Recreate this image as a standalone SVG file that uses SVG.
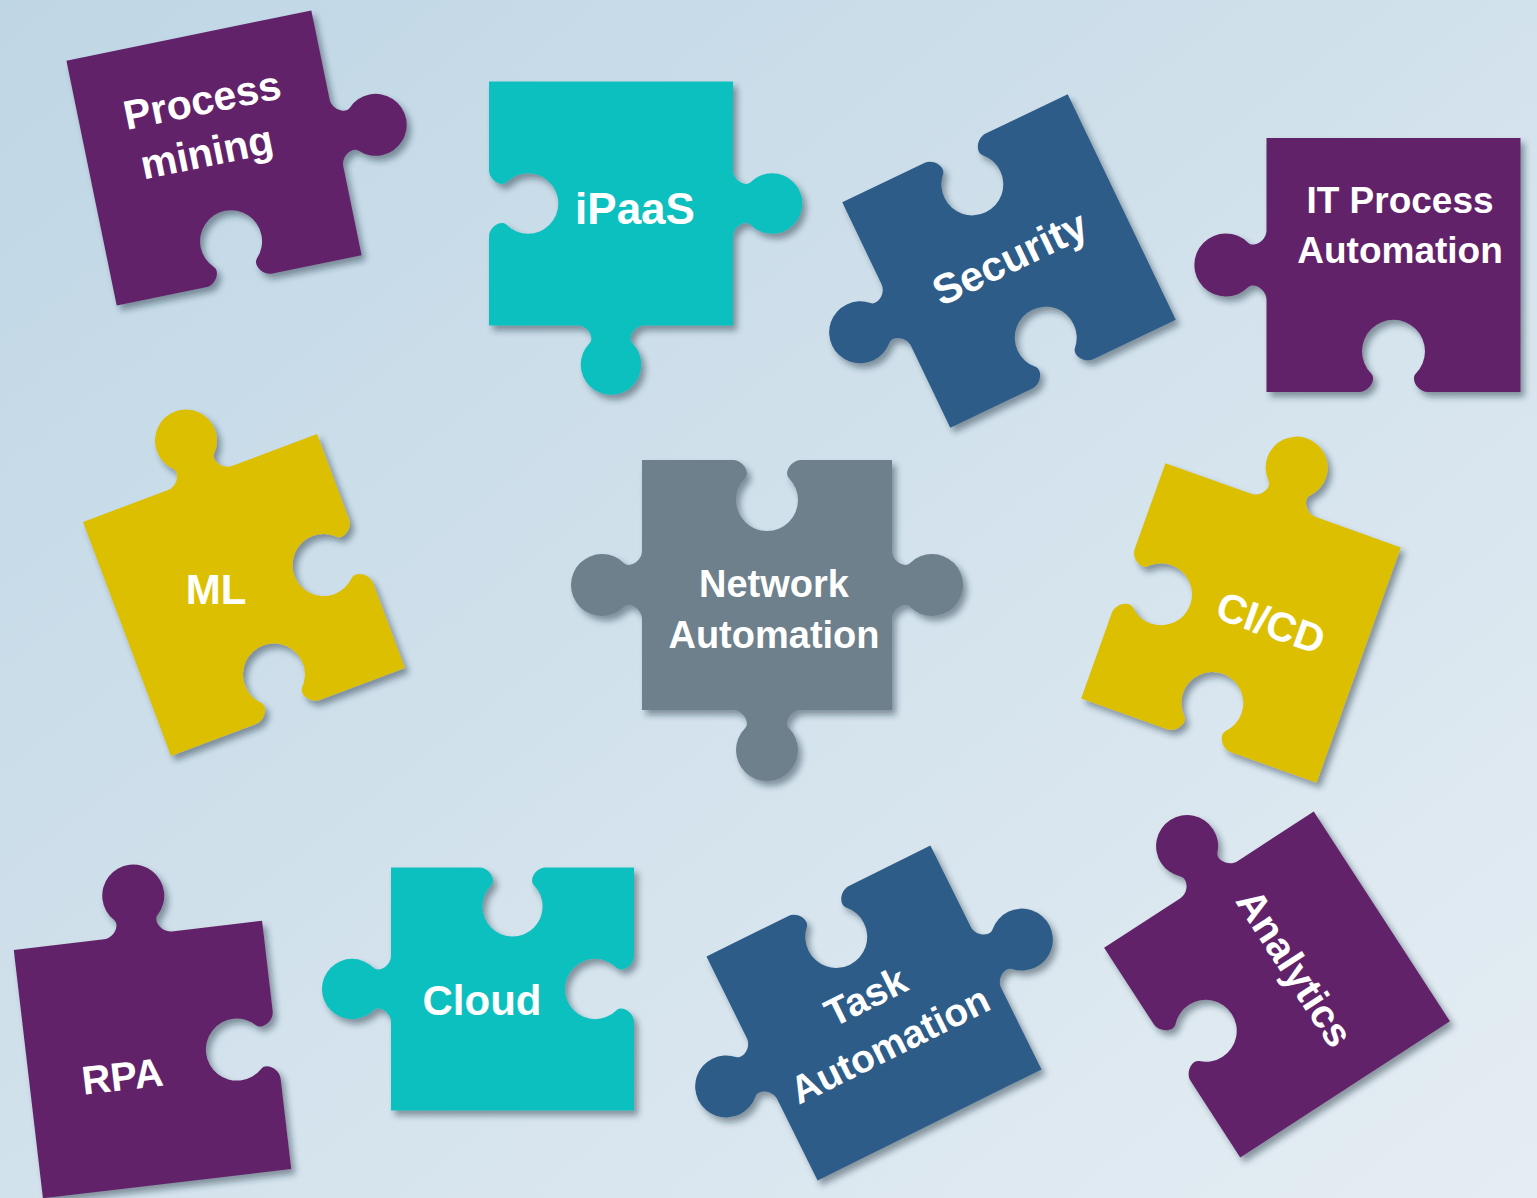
<svg xmlns="http://www.w3.org/2000/svg" width="1537" height="1198" viewBox="0 0 1537 1198">
<defs>
<linearGradient id="bg" x1="0" y1="0" x2="1" y2="1">
<stop offset="0" stop-color="#bfd6e5"/>
<stop offset="1" stop-color="#e5edf3"/>
</linearGradient>
<filter id="sh" x="-20%" y="-20%" width="140%" height="140%">
<feDropShadow dx="4" dy="5" stdDeviation="3" flood-color="#1e2d3c" flood-opacity="0.45"/>
</filter>
<style>
.purple{fill:#62246a}
.teal{fill:#10c0c0}
.navy{fill:#2f5b88}
.yellow{fill:#dcbf05}
.gray{fill:#6e808c}
.t{fill:#ffffff;font-family:"Liberation Sans",Arial,sans-serif;font-weight:bold;text-anchor:middle}
</style>
</defs>
<rect width="1537" height="1198" fill="url(#bg)"/>
<g id="connectors"/>

<g id="process-mining" transform="translate(214,158)">
<g filter="url(#sh)"><path class="purple" transform="rotate(-11.6)" d="M -125,-125 L 125,-125 L 125,-34 C 125,-24 137.5,-16.4 143.2,-22 A 31 31 0 1 1 143.2,22 C 137.5,16.4 125,24 125,34 L 125,125 L 34,125 C 24,125 16.4,112.5 22,106.8 A 31 31 0 1 0 -22,106.8 C -16.4,112.5 -24,125 -34,125 L -125,125 Z"/></g>
<g transform="rotate(-11.6)"><text class="t" x="0" y="-45" font-size="41">Process</text><text class="t" x="-6" y="7" font-size="41">mining</text></g>
</g>

<g id="ipaas" transform="translate(611,203.5)">
<g filter="url(#sh)"><path class="teal" transform="scale(0.976)" d="M -125,-125 L 125,-125 L 125,-34 C 125,-24 137.5,-16.4 143.2,-22 A 31 31 0 1 1 143.2,22 C 137.5,16.4 125,24 125,34 L 125,125 L 34,125 C 24,125 16.4,137.5 22,143.2 A 31 31 0 1 1 -22,143.2 C -16.4,137.5 -24,125 -34,125 L -125,125 L -125,34 C -125,24 -112.5,16.4 -106.8,22 A 31 31 0 1 0 -106.8,-22 C -112.5,-16.4 -125,-24 -125,-34 Z"/></g>
<text class="t" x="24" y="20.5" font-size="44">iPaaS</text>
</g>

<g id="security" transform="translate(1009,261)">
<g filter="url(#sh)"><path class="navy" transform="rotate(-25.6)" d="M -125,-125 L -34,-125 C -24,-125 -16.4,-112.5 -22,-106.8 A 31 31 0 1 0 22,-106.8 C 16.4,-112.5 24,-125 34,-125 L 125,-125 L 125,125 L 34,125 C 24,125 16.4,112.5 22,106.8 A 31 31 0 1 0 -22,106.8 C -16.4,112.5 -24,125 -34,125 L -125,125 L -125,34 C -125,24 -137.5,16.4 -143.2,22 A 31 31 0 1 1 -143.2,-22 C -137.5,-16.4 -125,-24 -125,-34 Z"/></g>
<text class="t" transform="rotate(-25.6)" x="2" y="12" font-size="42">Security</text>
</g>

<g id="it-process-automation" transform="translate(1393.5,265)">
<g filter="url(#sh)"><path class="purple" transform="scale(1.016)" d="M -125,-125 L 125,-125 L 125,125 L 34,125 C 24,125 16.4,112.5 22,106.8 A 31 31 0 1 0 -22,106.8 C -16.4,112.5 -24,125 -34,125 L -125,125 L -125,34 C -125,24 -137.5,16.4 -143.2,22 A 31 31 0 1 1 -143.2,-22 C -137.5,-16.4 -125,-24 -125,-34 Z"/></g>
<text class="t" x="6.5" y="-52" font-size="37">IT Process</text>
<text class="t" x="6.5" y="-2" font-size="37">Automation</text>
</g>

<g id="ml" transform="translate(244,595)">
<g filter="url(#sh)"><path class="yellow" transform="rotate(-20.6)" d="M -125,-125 L -34,-125 C -24,-125 -16.4,-137.5 -22,-143.2 A 31 31 0 1 1 22,-143.2 C 16.4,-137.5 24,-125 34,-125 L 125,-125 L 125,-34 C 125,-24 112.5,-16.4 106.8,-22 A 31 31 0 1 0 106.8,22 C 112.5,16.4 125,24 125,34 L 125,125 L 34,125 C 24,125 16.4,112.5 22,106.8 A 31 31 0 1 0 -22,106.8 C -16.4,112.5 -24,125 -34,125 L -125,125 Z"/></g>
<text class="t" x="-28" y="9" font-size="42">ML</text>
</g>

<g id="network-automation" transform="translate(767,585)">
<g filter="url(#sh)"><path class="gray" d="M -125,-125 L -34,-125 C -24,-125 -16.4,-112.5 -22,-106.8 A 31 31 0 1 0 22,-106.8 C 16.4,-112.5 24,-125 34,-125 L 125,-125 L 125,-34 C 125,-24 137.5,-16.4 143.2,-22 A 31 31 0 1 1 143.2,22 C 137.5,16.4 125,24 125,34 L 125,125 L 34,125 C 24,125 16.4,137.5 22,143.2 A 31 31 0 1 1 -22,143.2 C -16.4,137.5 -24,125 -34,125 L -125,125 L -125,34 C -125,24 -137.5,16.4 -143.2,22 A 31 31 0 1 1 -143.2,-22 C -137.5,-16.4 -125,-24 -125,-34 Z"/></g>
<text class="t" x="7" y="12" font-size="38">Network</text>
<text class="t" x="7" y="63" font-size="38">Automation</text>
</g>

<g id="ci-cd" transform="translate(1241,623)">
<g filter="url(#sh)"><path class="yellow" transform="rotate(19.7)" d="M -125,-125 L -34,-125 C -24,-125 -16.4,-137.5 -22,-143.2 A 31 31 0 1 1 22,-143.2 C 16.4,-137.5 24,-125 34,-125 L 125,-125 L 125,125 L 34,125 C 24,125 16.4,112.5 22,106.8 A 31 31 0 1 0 -22,106.8 C -16.4,112.5 -24,125 -34,125 L -125,125 L -125,34 C -125,24 -112.5,16.4 -106.8,22 A 31 31 0 1 0 -106.8,-22 C -112.5,-16.4 -125,-24 -125,-34 Z"/></g>
<text class="t" transform="rotate(19.7)" x="28" y="4" font-size="41">CI/CD</text>
</g>

<g id="rpa" transform="translate(152.5,1059.5)">
<g filter="url(#sh)"><path class="purple" transform="rotate(-6.7)" d="M -125,-125 L -34,-125 C -24,-125 -16.4,-137.5 -22,-143.2 A 31 31 0 1 1 22,-143.2 C 16.4,-137.5 24,-125 34,-125 L 125,-125 L 125,-34 C 125,-24 112.5,-16.4 106.8,-22 A 31 31 0 1 0 106.8,22 C 112.5,16.4 125,24 125,34 L 125,125 L -125,125 Z"/></g>
<text class="t" transform="rotate(-6.7)" x="-32" y="27" font-size="40">RPA</text>
</g>

<g id="cloud" transform="translate(512.5,989)">
<g filter="url(#sh)"><path class="teal" transform="scale(0.972)" d="M -125,-125 L -34,-125 C -24,-125 -16.4,-112.5 -22,-106.8 A 31 31 0 1 0 22,-106.8 C 16.4,-112.5 24,-125 34,-125 L 125,-125 L 125,-34 C 125,-24 112.5,-16.4 106.8,-22 A 31 31 0 1 0 106.8,22 C 112.5,16.4 125,24 125,34 L 125,125 L -125,125 L -125,34 C -125,24 -137.5,16.4 -143.2,22 A 31 31 0 1 1 -143.2,-22 C -137.5,-16.4 -125,-24 -125,-34 Z"/></g>
<text class="t" x="-30.5" y="26" font-size="42">Cloud</text>
</g>

<g id="task-automation" transform="translate(874,1013)">
<g filter="url(#sh)"><path class="navy" transform="rotate(-26.4)" d="M -125,-125 L -34,-125 C -24,-125 -16.4,-112.5 -22,-106.8 A 31 31 0 1 0 22,-106.8 C 16.4,-112.5 24,-125 34,-125 L 125,-125 L 125,-34 C 125,-24 137.5,-16.4 143.2,-22 A 31 31 0 1 1 143.2,22 C 137.5,16.4 125,24 125,34 L 125,125 L -125,125 L -125,34 C -125,24 -137.5,16.4 -143.2,22 A 31 31 0 1 1 -143.2,-22 C -137.5,-16.4 -125,-24 -125,-34 Z"/></g>
<g transform="rotate(-26.4)"><text class="t" x="0" y="-5" font-size="39">Task</text><text class="t" x="0" y="49" font-size="39">Automation</text></g>
</g>

<g id="analytics" transform="translate(1277,984.5)">
<g filter="url(#sh)"><path class="purple" transform="rotate(-33)" d="M -125,-125 L -34,-125 C -24,-125 -16.4,-137.5 -22,-143.2 A 31 31 0 1 1 22,-143.2 C 16.4,-137.5 24,-125 34,-125 L 125,-125 L 125,125 L -125,125 L -125,34 C -125,24 -112.5,16.4 -106.8,22 A 31 31 0 1 0 -106.8,-22 C -112.5,-16.4 -125,-24 -125,-34 Z"/></g>
<text class="t" transform="rotate(57)" x="-4" y="-10" font-size="40">Analytics</text>
</g>
</svg>
